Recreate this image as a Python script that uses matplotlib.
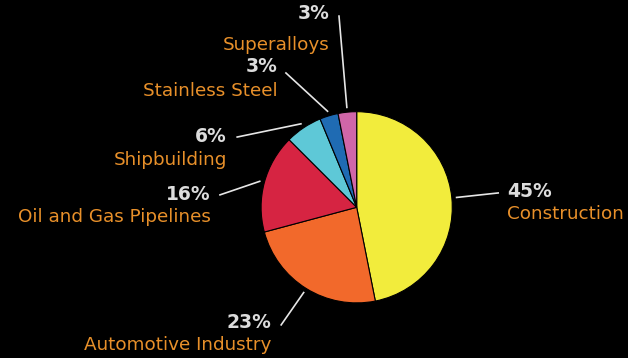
import numpy as np
import matplotlib.pyplot as plt

# Share of demand by end use
sectors = ['Construction', 'Automotive Industry', 'Oil and Gas Pipelines',
           'Shipbuilding', 'Stainless Steel', 'Superalloys']
shares = [45, 23, 16, 6, 3, 3]
colors = ['#f2ec3c', '#f2692b', '#d62442', '#5ec8d7', '#1f6bb3', '#d066a8']

# Where each leader line ends (pie radius = 1) and which side the text sits on
line_ends = [(1.48, 0.15), (-0.79, -1.23), (-1.43, 0.13),
             (-1.25, 0.735), (-0.74, 1.405), (-0.185, 2.0)]
pct_pos = [(1.57, 0.17), (-0.89, -1.20), (-1.53, 0.13),
           (-1.36, 0.745), (-0.83, 1.47), (-0.28, 2.03)]
name_pos = [(1.57, -0.07), (-0.89, -1.44), (-1.53, -0.10),
            (-1.36, 0.495), (-0.83, 1.22), (-0.28, 1.70)]
sides = ['left', 'right', 'right', 'right', 'right', 'right']

fig = plt.figure(figsize=(6.28, 3.58), dpi=100, facecolor='black')
ax = fig.add_axes([0, 0, 1, 1])
ax.set_facecolor('black')

wedges, _ = ax.pie(shares, colors=colors, startangle=90, counterclock=False,
                   radius=1, wedgeprops=dict(edgecolor='black', linewidth=0.8))

for w, s, name, end, pp, npos, ha in zip(wedges, shares, sectors, line_ends,
                                         pct_pos, name_pos, sides):
    mid = np.deg2rad((w.theta1 + w.theta2) / 2)
    start = (1.05 * np.cos(mid), 1.05 * np.sin(mid))
    ax.plot([start[0], end[0]], [start[1], end[1]], color='#e6e6e6', lw=1.2)
    ax.text(pp[0], pp[1], f'{s}%', color='#dcdcdc', fontsize=13.5,
            fontweight='bold', ha=ha, va='center')
    ax.text(npos[0], npos[1], name, color='#e8902a', fontsize=13.2,
            ha=ha, va='center')

ax.set_xlim(-3.731, 2.838)
ax.set_ylim(-1.576, 2.168)
ax.set_aspect('equal')
ax.axis('off')

fig.savefig('out.png', dpi=100, facecolor='black')
